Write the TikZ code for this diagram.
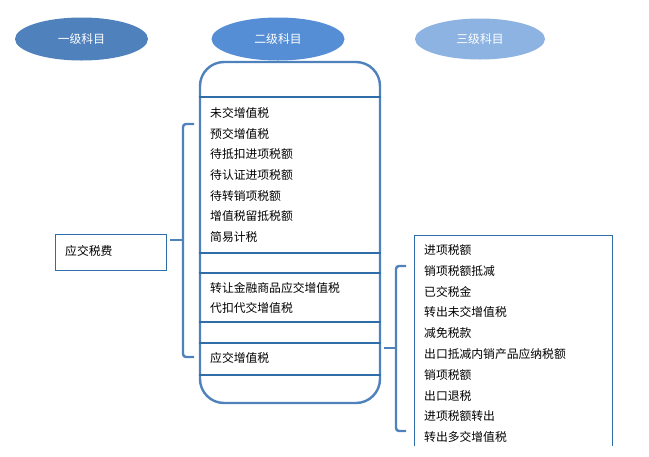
\documentclass[tikz,border=0pt]{standalone}
\usepackage{fontspec}
\setmainfont{Noto Sans CJK SC}
\usetikzlibrary{shapes.geometric}
\definecolor{eone}{HTML}{4F81BD}
\definecolor{etwo}{HTML}{558ED5}
\definecolor{ethree}{HTML}{8DB3E2}
\definecolor{frame}{HTML}{4F81BD}
\definecolor{thinblue}{HTML}{2E6DA8}
\begin{document}
\begin{tikzpicture}[x=1pt,y=-1pt,
  font=\fontsize{11.8}{13}\selectfont,
  head/.style={ellipse, inner sep=0pt, text=white, minimum width=133pt, minimum height=43pt},
  item/.style={anchor=west, inner sep=0pt},
  bigframe/.style={draw=frame, line width=2.4pt, rounded corners=24pt, minimum width=180pt, minimum height=341pt, inner sep=0pt},
  sep/.style={draw=thinblue, line width=1.1pt},
  smallbox/.style={draw=thinblue, line width=1pt, inner sep=0pt},
  bracel/.style={draw=frame, line width=2.4pt, rounded corners=3pt}]
\useasboundingbox (0,0) rectangle (649,456);
\fill[white] (0,0) rectangle (649,456);

% headers
\node[head, fill=eone] (h1) at (81.5,39) {一级科目};
\node[head, fill=etwo] (h2) at (278,39) {二级科目};
\node[head, fill=ethree, minimum width=130pt, minimum height=41pt] (h3) at (480,39) {三级科目};

% first level box
\node[smallbox, minimum width=111pt, minimum height=36pt] (tax) at (110.5,252) {};
\node[item] (taxt) at (65,250.5) {应交税费};

% second level frame
\node[bigframe] (box) at (290,232.5) {};
\foreach \yy in {97,253,273,322,343,375}
  \draw[sep] (box.west |- 0,\yy) -- (box.east |- 0,\yy);

\node[item] (a1) at (210,113) {未交增值税};
\node[item] (a2) at (210,133.7) {预交增值税};
\node[item] (a3) at (210,154.4) {待抵扣进项税额};
\node[item] (a4) at (210,175.1) {待认证进项税额};
\node[item] (a5) at (210,195.8) {待转销项税额};
\node[item] (a6) at (210,216.5) {增值税留抵税额};
\node[item] (a7) at (210,237.2) {简易计税};
\node[item] (b1) at (210,287.5) {转让金融商品应交增值税};
\node[item] (b2) at (210,308.2) {代扣代交增值税};
\node[item] (c1) at (210,358) {应交增值税};

% third level box (open at bottom, cut off)
\coordinate (rbl) at (414,446);
\coordinate (rtl) at (414,235);
\coordinate (rtr) at (612,235);
\coordinate (rbr) at (612,446);
\draw[draw=thinblue, line width=1pt] (rbl) -- (rtl) -- (rtr) -- (rbr);

\node[item] (d1) at (424,250) {进项税额};
\node[item] (d2) at (424,270.8) {销项税额抵减};
\node[item] (d3) at (424,291.6) {已交税金};
\node[item] (d4) at (424,312.4) {转出未交增值税};
\node[item] (d5) at (424,333.2) {减免税款};
\node[item] (d6) at (424,354) {出口抵减内销产品应纳税额};
\node[item] (d7) at (424,374.8) {销项税额};
\node[item] (d8) at (424,395.6) {出口退税};
\node[item] (d9) at (424,416.4) {进项税额转出};
\node[item] (d10) at (424,437.2) {转出多交增值税};

% braces
\coordinate (lb1) at (194,124);
\coordinate (lb2) at (194,357);
\coordinate (lbm) at (183,240);
\coordinate (lbt) at (170,240);
\draw[bracel] (lb1) -| (lbm) |- (lb2);
\draw[draw=frame, line width=2.4pt] (lbm) -- (lbt);

\coordinate (rb1) at (406,266);
\coordinate (rb2) at (406,431);
\coordinate (rbm) at (396,348);
\coordinate (rbt) at (384,348);
\draw[bracel] (rb1) -| (rbm) |- (rb2);
\draw[draw=frame, line width=2.4pt] (rbm) -- (rbt);
\end{tikzpicture}
\end{document}
